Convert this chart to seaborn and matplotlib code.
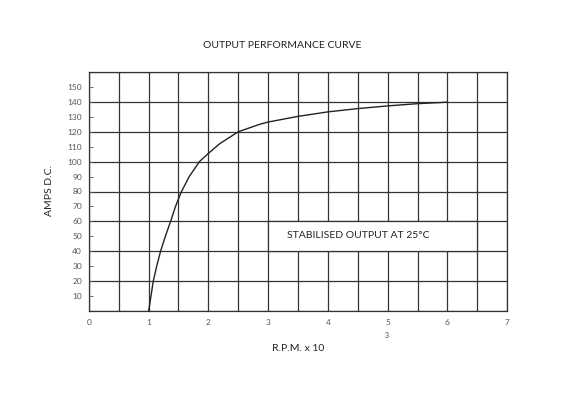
import numpy as np
import matplotlib
matplotlib.use('Agg')
import matplotlib.pyplot as plt
import matplotlib.patches as mpatches
import seaborn as sns
import pandas as pd

# values
rpm = [1.0, 1.04, 1.078, 1.135, 1.2, 1.28, 1.368, 1.45, 1.55, 1.68, 1.85, 2.0, 2.19,
       2.5, 2.86, 3.0, 3.5, 4.0, 4.5, 5.0, 5.5, 6.0]
amps = [0, 10, 20, 30, 40, 50, 60, 70, 80, 90, 100, 105.5, 112,
        120, 125, 126.5, 130.3, 133.3, 135.5, 137.3, 138.8, 139.8]
x_ticks = [0, 1, 2, 3, 4, 5, 6, 7]
y_ticks = [10, 20, 30, 40, 50, 60, 70, 80, 90, 100, 110, 120, 130, 140, 150]
note = 'STABILISED OUTPUT AT 25\u00b0C'

df = pd.DataFrame({'rpm': rpm, 'amps': amps})

sns.set_style('white')
plt.rcParams['font.family'] = ['Lato', 'DejaVu Sans']

fig = plt.figure(figsize=(5.66, 4.0), dpi=100)
ax = fig.add_axes([0.157, 0.2225, 0.739, 0.5975])

sns.lineplot(data=df, x='rpm', y='amps', ax=ax, color='#222222', linewidth=1.0)

ax.set_xlim(0, 7)
ax.set_ylim(0, 160)
ax.set_xticks(np.arange(0, 7.01, 0.5))
ax.set_yticks(np.arange(0, 160.1, 20))
ax.grid(True, color='#333333', linewidth=0.9)
ax.set_xticklabels(['' if v % 1 else str(int(v)) for v in np.arange(0, 7.01, 0.5)])
ax.set_yticklabels([''] * 9)
ax.tick_params(axis='x', length=0, labelsize=6, colors='#555555', pad=6)
ax.tick_params(axis='y', length=0)

# white panel behind the note, cut out of the grid between 40 and 60
ax.add_patch(mpatches.Rectangle((3.0, 40), 3.5, 20, facecolor='white',
                                edgecolor='none', zorder=1.5))
ax.plot([3.0, 3.0], [40, 60], color='#333333', linewidth=0.9, zorder=1.6)
ax.plot([6.5, 6.5], [40, 60], color='#333333', linewidth=0.9, zorder=1.6)
ax.plot([3.0, 6.5], [40, 40], color='#333333', linewidth=0.9, zorder=1.6)
ax.plot([3.0, 6.5], [60, 60], color='#333333', linewidth=0.9, zorder=1.6)

# small y ticks with labels every 10
ax2 = ax.twinx()
ax2.set_ylim(0, 160)
ax2.yaxis.tick_left()
ax2.set_yticks(y_ticks)
ax2.set_yticklabels([str(v) for v in y_ticks])
ax2.tick_params(axis='y', direction='in', length=3, width=0.6, color='#555555',
                labelsize=6, labelcolor='#555555', pad=5)
for s in ax2.spines.values():
    s.set_visible(False)

for s in ax.spines.values():
    s.set_color('#333333')
    s.set_linewidth(0.9)

ax.set_xlabel('')
ax.set_ylabel('')

ax.text(3.32, 50.7, note, fontsize=7.5, color='#222222',
        va='center', ha='left', zorder=3)

fig.text(0.498, 0.887, 'OUTPUT PERFORMANCE CURVE', fontsize=7.5, color='#222222',
         ha='center', va='center')
fig.text(0.527, 0.128, 'R.P.M. x 10', fontsize=7.5, color='#222222',
         ha='center', va='center')
fig.text(0.684, 0.16, '3', fontsize=5, color='#444444', ha='center', va='center')
fig.text(0.088, 0.525, 'AMPS D.C.', fontsize=7.5, color='#222222',
         ha='center', va='center', rotation=90)

fig.savefig('out.png', dpi=100, facecolor='white')
